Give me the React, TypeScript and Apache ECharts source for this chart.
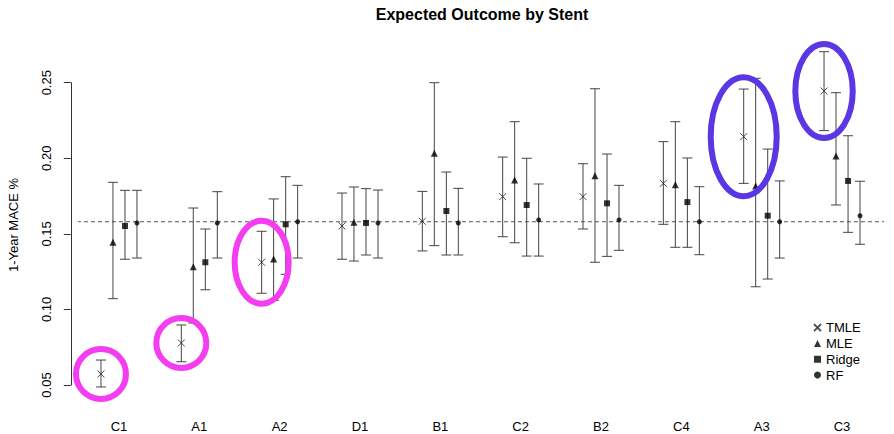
import React, { useEffect, useRef } from "react";
import * as echarts from "echarts";

// ---- data ----
const categories = ["C1", "A1", "A2", "D1", "B1", "C2", "B2", "C4", "A3", "C3"];
const methods = ["TMLE", "MLE", "Ridge", "RF"];

const tmleEst = [0.0573, 0.0778, 0.1312, 0.1552, 0.1583, 0.1746, 0.1746, 0.1834, 0.2143, 0.2445];
const tmleLo = [0.0487, 0.0654, 0.1107, 0.1332, 0.1387, 0.1481, 0.1532, 0.1563, 0.1834, 0.2183];
const tmleHi = [0.0665, 0.0897, 0.1517, 0.177, 0.1781, 0.2008, 0.1964, 0.211, 0.2458, 0.2705];

const mleEst = [0.1444, 0.1283, 0.1334, 0.1576, 0.2033, 0.1856, 0.1885, 0.1825, 0.1817, 0.2015];
const mleLo = [0.1071, 0.091, 0.106, 0.132, 0.1422, 0.1441, 0.1312, 0.1411, 0.115, 0.1691];
const mleHi = [0.1841, 0.1671, 0.1731, 0.181, 0.25, 0.2242, 0.246, 0.2242, 0.2529, 0.2434];

const ridgeEst = [0.1552, 0.1312, 0.1563, 0.1572, 0.1651, 0.1691, 0.1702, 0.171, 0.162, 0.185];
const ridgeLo = [0.1332, 0.113, 0.1232, 0.136, 0.136, 0.1353, 0.1351, 0.1411, 0.1201, 0.151];
const ridgeHi = [0.1788, 0.1532, 0.1878, 0.1799, 0.1909, 0.2, 0.2028, 0.2002, 0.2061, 0.2149];

const rfEst = [0.1572, 0.1572, 0.158, 0.1572, 0.1572, 0.1592, 0.1592, 0.158, 0.158, 0.162];
const rfLo = [0.134, 0.134, 0.134, 0.134, 0.136, 0.1353, 0.1391, 0.1362, 0.134, 0.1431];
const rfHi = [0.1788, 0.1779, 0.1821, 0.179, 0.1801, 0.183, 0.1821, 0.1812, 0.185, 0.1848];

const referenceRate = 0.158;
const yTicks = [0.05, 0.1, 0.15, 0.2, 0.25];

// highlighted TMLE estimates (annotations)
const pinkHighlights = ["C1", "A1", "A2"];
const blueHighlights = ["A3", "C3"];

// ---- styles / layout ----
const FONT = "'Liberation Sans', Arial, Helvetica, sans-serif";
const methodOffsets = [-0.224, -0.075, 0.075, 0.224];
const ellipseSize: Record<string, [number, number]> = {
  C1: [25, 25],
  A1: [25, 25],
  A2: [27, 41.5],
  A3: [33, 59.5],
  C3: [28.7, 47],
};
const PINK = "#f43cf0";
const BLUE = "#5a36e4";
const BAR_COLOR = "#444";
const CAP_HALF = 5;

const allSets = [
  { name: "TMLE", est: tmleEst, lo: tmleLo, hi: tmleHi },
  { name: "MLE", est: mleEst, lo: mleLo, hi: mleHi },
  { name: "Ridge", est: ridgeEst, lo: ridgeLo, hi: ridgeHi },
  { name: "RF", est: rfEst, lo: rfLo, hi: rfHi },
];

const symbolFor: Record<string, any> = {
  TMLE: { symbol: "path://M0,0L10,10M10,0L0,10", size: 7 },
  MLE: { symbol: "triangle", size: 7 },
  Ridge: { symbol: "rect", size: 6 },
  RF: { symbol: "circle", size: 5 },
};

export default function App() {
  const ref = useRef<HTMLDivElement>(null);

  useEffect(() => {
    if (!ref.current) return;
    const chart = echarts.init(ref.current, null, { renderer: "svg" });

    const barRows: number[][] = [];
    allSets.forEach((s, k) => {
      categories.forEach((_, i) => {
        barRows.push([i + methodOffsets[k], s.lo[i], s.hi[i]]);
      });
    });

    const errorSeries = {
      type: "custom",
      name: "CI",
      xAxisIndex: 1,
      yAxisIndex: 0,
      clip: false,
      z: 2,
      silent: true,
      data: barRows,
      renderItem: (params: any, api: any) => {
        const row = barRows[params.dataIndex];
        if (!row) return null;
        const pLo = api.coord([row[0], row[1]]);
        const pHi = api.coord([row[0], row[2]]);
        const st = { stroke: BAR_COLOR, lineWidth: 1 };
        return {
          type: "group",
          children: [
            { type: "line", shape: { x1: pLo[0], y1: pLo[1], x2: pHi[0], y2: pHi[1] }, style: st },
            { type: "line", shape: { x1: pLo[0] - CAP_HALF, y1: pLo[1], x2: pLo[0] + CAP_HALF, y2: pLo[1] }, style: st },
            { type: "line", shape: { x1: pHi[0] - CAP_HALF, y1: pHi[1], x2: pHi[0] + CAP_HALF, y2: pHi[1] }, style: st },
          ],
        };
      },
    };

    const pointSeries = allSets.map((s, k) => {
      const sym = symbolFor[s.name];
      const isX = s.name === "TMLE";
      return {
        type: "scatter",
        name: s.name,
        xAxisIndex: 1,
        yAxisIndex: 0,
        clip: false,
        z: 3,
        symbol: sym.symbol,
        symbolSize: sym.size,
        itemStyle: isX
          ? { color: "rgba(0,0,0,0)", borderColor: "#222", borderWidth: 1 }
          : { color: "#000" },
        data: categories.map((_, i) => [i + methodOffsets[k], s.est[i]]),
      };
    });

    const highlightData = [
      ...pinkHighlights.map((c) => ({ cat: c, color: PINK })),
      ...blueHighlights.map((c) => ({ cat: c, color: BLUE })),
    ];
    const highlightRows = highlightData.map((h) => {
      const i = categories.indexOf(h.cat);
      return [i + methodOffsets[0], tmleEst[i]];
    });
    const ellipseSeries = {
      type: "custom",
      name: "highlights",
      xAxisIndex: 1,
      yAxisIndex: 0,
      clip: false,
      z: 5,
      silent: true,
      data: highlightRows,
      renderItem: (params: any, api: any) => {
        const row = highlightRows[params.dataIndex];
        const h = highlightData[params.dataIndex];
        if (!row || !h) return null;
        const p = api.coord(row);
        const [rx, ry] = ellipseSize[h.cat];
        return {
          type: "ellipse",
          shape: { cx: p[0], cy: p[1], rx, ry },
          style: { fill: "none", stroke: h.color, lineWidth: 6 },
        };
      },
    };

    const refLine = {
      type: "line",
      name: "reference",
      xAxisIndex: 1,
      yAxisIndex: 0,
      clip: false,
      silent: true,
      symbol: "none",
      z: 1,
      lineStyle: { color: "#555", width: 1, type: [4, 3] },
      data: [
        [-0.61, referenceRate],
        [9.66, referenceRate],
      ],
    };

    chart.setOption({
      animation: false,
      backgroundColor: "#fff",
      textStyle: { fontFamily: FONT },
      grid: { left: 78.8, right: 11.8, top: 82.7, bottom: 49, containLabel: false },
      graphic: [
        {
          type: "text",
          x: 482,
          y: 14,
          style: {
            text: "Expected Outcome by Stent",
            font: `bold 16px ${FONT}`,
            fill: "#000",
            textAlign: "center",
            textVerticalAlign: "middle",
          },
        },
        {
          type: "text",
          x: 13,
          y: 225,
          rotation: Math.PI / 2,
          style: {
            text: "1-Year MACE %",
            font: `13px ${FONT}`,
            fill: "#000",
            textAlign: "center",
            textVerticalAlign: "middle",
          },
        },
      ],
      legend: {
        data: methods,
        orient: "vertical",
        left: 808,
        top: 316,
        itemWidth: 7,
        itemHeight: 7,
        itemGap: 2.5,
        textStyle: { fontSize: 13, color: "#000", fontFamily: FONT, lineHeight: 13.3 },
        selectedMode: false,
      },
      xAxis: [
        {
          type: "category",
          data: categories,
          boundaryGap: true,
          axisLine: { show: false, onZero: false },
          axisTick: { show: false },
          axisLabel: { margin: 35, fontSize: 13, color: "#000", fontFamily: FONT },
          splitLine: { show: false },
        },
        { type: "value", min: -0.5, max: 9.5, show: false, axisLine: { onZero: false } },
      ],
      yAxis: {
        type: "value",
        min: yTicks[0],
        max: yTicks[yTicks.length - 1],
        interval: 0.05,
        offset: 8,
        axisLine: { show: true, onZero: false, lineStyle: { color: "#333", width: 1 } },
        axisTick: { show: true, length: 7, lineStyle: { color: "#333" } },
        axisLabel: {
          rotate: 90,
          margin: 18,
          fontSize: 13,
          color: "#000",
          fontFamily: FONT,
          formatter: (v: number) => v.toFixed(2),
        },
        splitLine: { show: false },
      },
      series: [refLine, errorSeries, ...pointSeries, ellipseSeries],
    });

    return () => chart.dispose();
  }, []);

  return <div ref={ref} style={{ width: 894, height: 434, position: "fixed", left: 0, top: 0 }} />;
}
